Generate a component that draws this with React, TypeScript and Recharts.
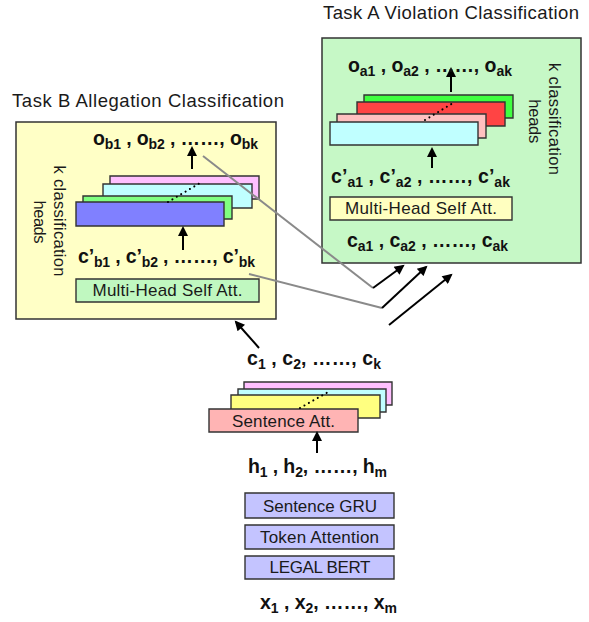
import {
  ComposedChart,
  XAxis,
  YAxis,
  ReferenceArea,
  ReferenceLine,
  Scatter,
} from "recharts"

// Diagram drawn on an identity-scaled number plane (x: 0..589, y: 0..622 top-down)

const W = 589
const H = 622
const FONT = "'Liberation Sans', Arial, Helvetica, sans-serif"

const panels = [
  { id: "taskB", x1: 16, x2: 276, y1: 122, y2: 319 },
  { id: "taskA", x1: 322, x2: 581, y1: 38, y2: 263 },
]

// stacked classification heads, back to front
const headsB = [
  { id: "bPink", x1: 110, x2: 259, y1: 176, y2: 199 },
  { id: "bCyan", x1: 103, x2: 252, y1: 184, y2: 208 },
  { id: "bGreen", x1: 83, x2: 232, y1: 196, y2: 219 },
  { id: "bBlue", x1: 76, x2: 224, y1: 202, y2: 226 },
]
const headsA = [
  { id: "aGreen", x1: 364, x2: 513, y1: 95, y2: 118 },
  { id: "aRed", x1: 357, x2: 505, y1: 102, y2: 126 },
  { id: "aPink", x1: 337, x2: 486, y1: 114, y2: 138 },
  { id: "aCyan", x1: 330, x2: 478, y1: 122, y2: 145 },
]
const sentenceHeads = [
  { id: "sPink", x1: 244, x2: 392, y1: 382, y2: 405 },
  { id: "sCyan", x1: 238, x2: 386, y1: 389, y2: 412 },
  { id: "sYellow", x1: 231, x2: 380, y1: 395, y2: 418 },
  { id: "sSalmon", x1: 209, x2: 358, y1: 409, y2: 432 },
]
const blocks = [
  { id: "mhB", x1: 76, x2: 259, y1: 279, y2: 302 },
  { id: "mhA", x1: 330, x2: 512, y1: 197, y2: 220 },
  { id: "gru", x1: 245, x2: 394, y1: 493, y2: 518 },
  { id: "tokAtt", x1: 245, x2: 394, y1: 525, y2: 549 },
  { id: "bert", x1: 245, x2: 394, y1: 556, y2: 579 },
]

const palette: Record<string, string> = {
  taskB: "#ffffc6",
  taskA: "#c6f8c6",
  bPink: "#ffc0ff",
  bCyan: "#c0ffff",
  bGreen: "#80ff80",
  bBlue: "#8080ff",
  aGreen: "#40ff40",
  aRed: "#ff4444",
  aPink: "#ffc0c0",
  aCyan: "#c0ffff",
  sPink: "#ffc0ff",
  sCyan: "#c0ffff",
  sYellow: "#ffff80",
  sSalmon: "#ffb4b4",
  mhB: "#c0f8c0",
  mhA: "#ffffc0",
  gru: "#c4c4ff",
  tokAtt: "#c4c4ff",
  bert: "#c4c4ff",
}

const grayLinks = [
  { x1: 203, y1: 156, x2: 373, y2: 288 },
  { x1: 249, y1: 274, x2: 382, y2: 308 },
]

const arrows = [
  { x1: 192, y1: 169, x2: 192, y2: 148 },
  { x1: 183, y1: 250, x2: 183, y2: 228 },
  { x1: 451, y1: 92, x2: 451, y2: 69 },
  { x1: 432, y1: 168, x2: 432, y2: 149 },
  { x1: 317, y1: 453, x2: 317, y2: 433 },
  { x1: 259, y1: 348, x2: 236, y2: 322 },
  { x1: 373, y1: 288, x2: 403, y2: 266 },
  { x1: 382, y1: 308, x2: 426, y2: 267 },
  { x1: 389, y1: 325, x2: 451, y2: 275 },
]

const dottedLinks = [
  { x1: 168, y1: 202, x2: 200, y2: 183 },
  { x1: 425, y1: 120, x2: 453, y2: 103 },
  { x1: 300, y1: 408, x2: 330, y2: 391 },
]

const titles = [
  { text: "Task B Allegation Classification", x: 148, y: 106.5, width: 272, size: 18.5 },
  { text: "Task A Violation Classification", x: 451, y: 18.5, width: 256, size: 18.5 },
  { text: "Multi-Head Self Att.", x: 167.5, y: 295.5, width: 150, size: 17 },
  { text: "Multi-Head Self Att.", x: 421, y: 213.5, width: 152, size: 17 },
  { text: "Sentence Att.", x: 283.5, y: 426.5, width: 103, size: 17 },
  { text: "Sentence GRU", x: 320, y: 512, width: 114, size: 17 },
  { text: "Token Attention", x: 319.5, y: 542.5, width: 119, size: 17 },
  { text: "LEGAL BERT", x: 320, y: 572.5, width: 101, size: 17 },
]

const sideLabels = [
  { text: "k classification", x: 59.5, y: 221, width: 111 },
  { text: "heads", x: 40, y: 222, width: 43 },
  { text: "k classification", x: 554.5, y: 119, width: 112 },
  { text: "heads", x: 535, y: 121.3, width: 44 },
]

const mathRows = [
  { text: "o_{b1} , o_{b2} , ……, o_{bk}", x: 175.5, y: 145, width: 165 },
  { text: "c’_{b1} , c’_{b2} , ……, c’_{bk}", x: 166.5, y: 263, width: 177 },
  { text: "o_{a1} , o_{a2} , ……, o_{ak}", x: 430, y: 72, width: 164 },
  { text: "c’_{a1} , c’_{a2} , ……, c’_{ak}", x: 420.5, y: 183, width: 179 },
  { text: "c_{a1} , c_{a2} , ……, c_{ak}", x: 427.5, y: 247, width: 161 },
  { text: "c_{1} , c_{2}, ……, c_{k}", x: 314, y: 365, width: 134 },
  { text: "h_{1} , h_{2}, ……, h_{m}", x: 317.5, y: 473, width: 139 },
  { text: "x_{1} , x_{2}, ……, x_{m}", x: 328.5, y: 609, width: 137 },
]

function PlainLabel(props: any) {
  const { cx, cy, payload } = props
  return (
    <text
      x={cx}
      y={cy}
      textAnchor="middle"
      fontFamily={FONT}
      fontSize={payload.size}
      fill="#1a1a1a"
      textLength={payload.width}
      lengthAdjust="spacing"
    >
      {payload.text}
    </text>
  )
}

function SideLabel(props: any) {
  const { cx, cy, payload } = props
  return (
    <text
      x={cx}
      y={cy}
      textAnchor="middle"
      dominantBaseline="central"
      transform={`rotate(90, ${cx}, ${cy})`}
      fontFamily={FONT}
      fontSize={16.5}
      fill="#1a1a1a"
      textLength={payload.width}
      lengthAdjust="spacing"
    >
      {payload.text}
    </text>
  )
}

function MathLabel(props: any) {
  const { cx, cy, payload } = props
  const parts: string[] = payload.text.split(/_\{([^}]*)\}/)
  return (
    <text
      x={cx}
      y={cy}
      textAnchor="middle"
      fontFamily={FONT}
      fontWeight="bold"
      fontSize={19.5}
      fill="#111"
      textLength={payload.width}
      lengthAdjust="spacing"
    >
      {parts.map((p, i) => {
        if (!p) return null
        const isSub = i % 2 === 1
        const dy = isSub ? 3.5 : i > 0 ? -3.5 : 0
        return (
          <tspan key={i} dy={dy} fontSize={isSub ? 14 : 19.5}>
            {p}
          </tspan>
        )
      })}
    </text>
  )
}

function boxArea(b: { id: string; x1: number; x2: number; y1: number; y2: number }, strokeWidth = 1.4) {
  return (
    <ReferenceArea
      key={b.id}
      x1={b.x1}
      x2={b.x2}
      y1={b.y1}
      y2={b.y2}
      fill={palette[b.id]}
      fillOpacity={1}
      stroke="#333"
      strokeWidth={strokeWidth}
      ifOverflow="visible"
    />
  )
}

export default function App() {
  return (
    <div style={{ position: "absolute", left: 0, top: 0, width: W, height: H, background: "#fff" }}>
      <ComposedChart width={W} height={H} margin={{ top: 0, right: 0, bottom: 0, left: 0 }}>
        <defs>
          <marker
            id="arrowHead"
            viewBox="0 0 10 10"
            refX="8"
            refY="5"
            markerWidth="12"
            markerHeight="10"
            markerUnits="userSpaceOnUse"
            orient="auto"
          >
            <path d="M0,0 L10,5 L0,10 z" fill="#000" />
          </marker>
        </defs>
        <XAxis type="number" dataKey="x" domain={[0, W]} hide allowDataOverflow />
        <YAxis type="number" dataKey="y" domain={[0, H]} reversed hide allowDataOverflow />

        {panels.map((b) => boxArea(b, 1.5))}
        {headsB.map((b) => boxArea(b))}
        {headsA.map((b) => boxArea(b))}
        {sentenceHeads.map((b) => boxArea(b))}
        {blocks.map((b) => boxArea(b))}

        {dottedLinks.map((l, i) => (
          <ReferenceLine
            key={`dot-${i}`}
            segment={[{ x: l.x1, y: l.y1 }, { x: l.x2, y: l.y2 }]}
            stroke="#000"
            strokeWidth={2}
            strokeDasharray="0.1 5"
            strokeLinecap="round"
            ifOverflow="visible"
          />
        ))}
        {grayLinks.map((l, i) => (
          <ReferenceLine
            key={`gray-${i}`}
            segment={[{ x: l.x1, y: l.y1 }, { x: l.x2, y: l.y2 }]}
            stroke="#8a8a8a"
            strokeWidth={2}
            ifOverflow="visible"
          />
        ))}
        {arrows.map((l, i) => (
          <ReferenceLine
            key={`arrow-${i}`}
            segment={[{ x: l.x1, y: l.y1 }, { x: l.x2, y: l.y2 }]}
            stroke="#000"
            strokeWidth={2}
            markerEnd="url(#arrowHead)"
            ifOverflow="visible"
          />
        ))}

        <Scatter data={titles} shape={PlainLabel} isAnimationActive={false} />
        <Scatter data={sideLabels} shape={SideLabel} isAnimationActive={false} />
        <Scatter data={mathRows} shape={MathLabel} isAnimationActive={false} />
      </ComposedChart>
    </div>
  )
}
